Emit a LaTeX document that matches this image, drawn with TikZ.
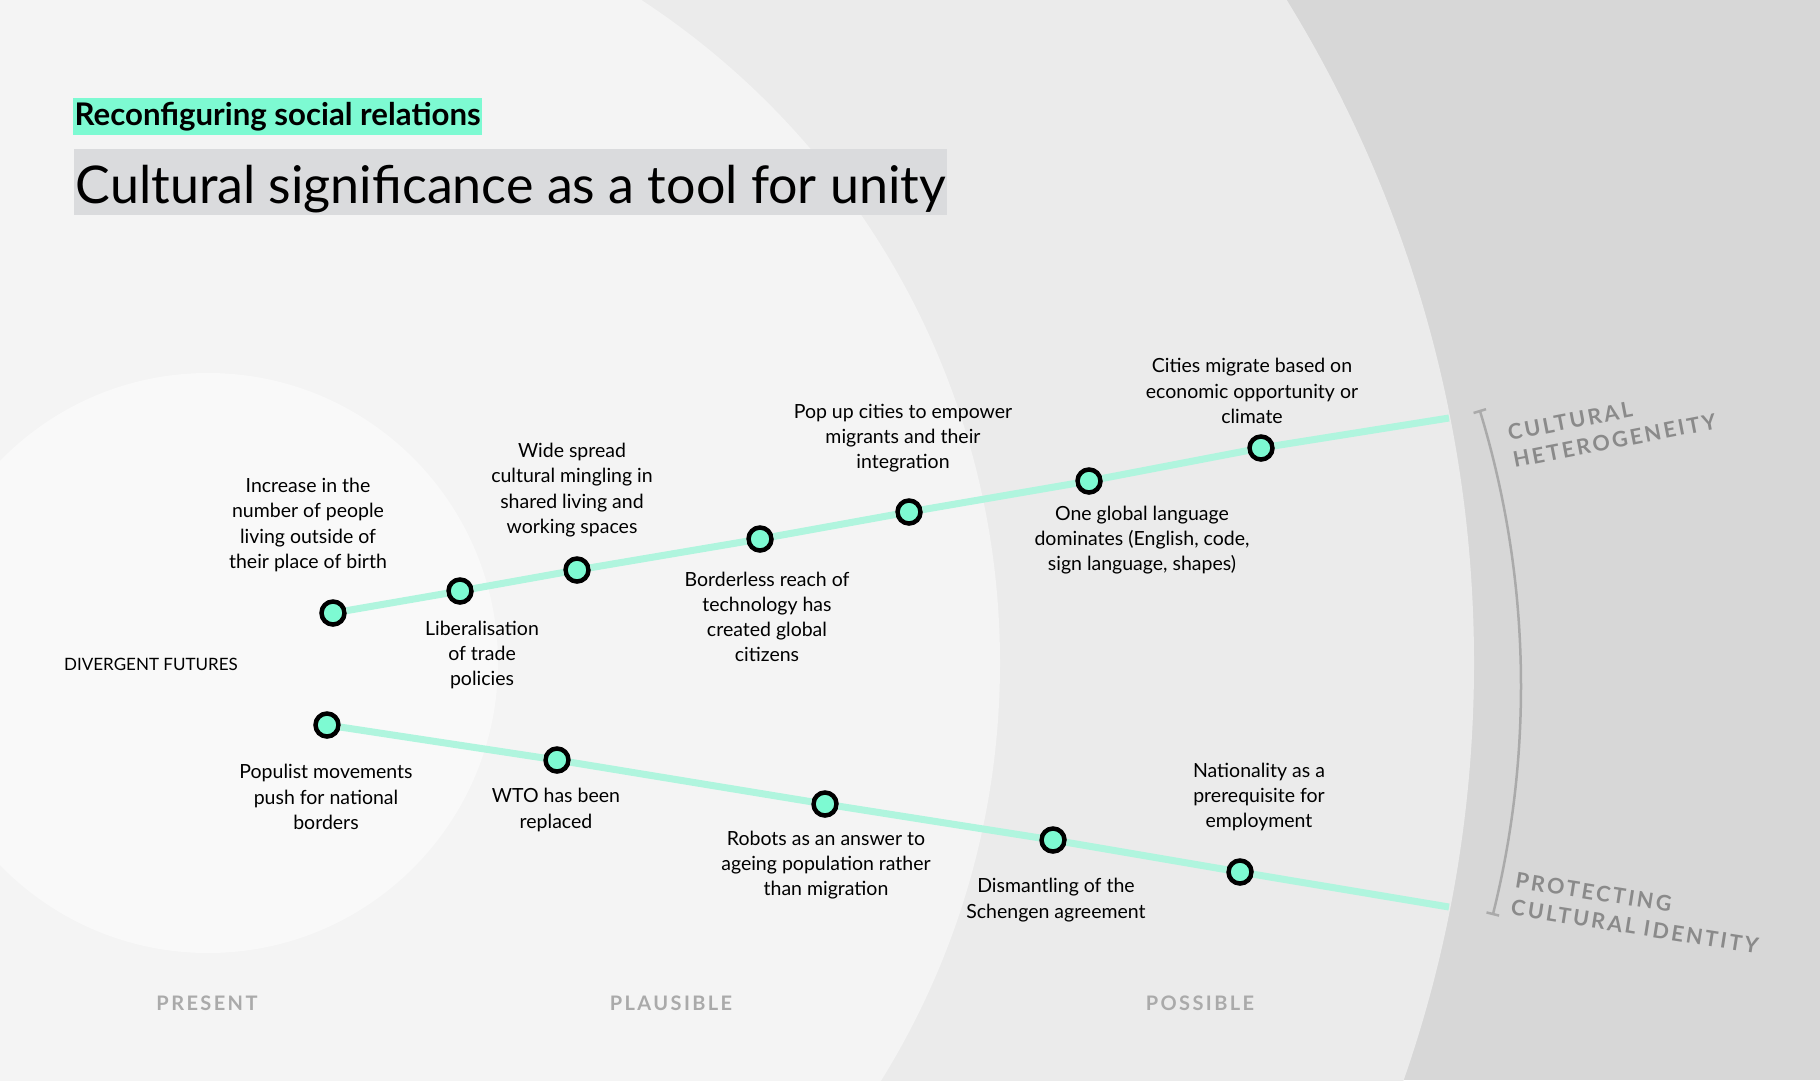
\documentclass[tikz,border=0pt]{standalone}
\usepackage{fontspec}
\setmainfont{Lato}
\usepackage{tikz}

\definecolor{mint}{HTML}{7DFAD2}
\definecolor{minttrack}{HTML}{B0F5DE}
\definecolor{ringfar}{HTML}{D7D7D7}
\definecolor{ringpossible}{HTML}{EBEBEB}
\definecolor{ringplausible}{HTML}{F4F4F4}
\definecolor{ringpresent}{HTML}{F9F9F9}
\definecolor{titlegray}{HTML}{DADBDD}
\definecolor{axisgray}{HTML}{8A8A8A}
\definecolor{horizongray}{HTML}{AAAAAA}

\begin{document}
\begin{tikzpicture}[
x=1pt, y=-1pt,
event/.style={circle, draw=black, line width=4.5pt, fill=mint, minimum size=23pt, inner sep=0pt},
note/.style={align=center, inner sep=0pt, font=\fontsize{19.5}{25.2}\selectfont},
track/.style={minttrack, line width=7pt},
horizon/.style={inner sep=0pt, text=horizongray, font=\bfseries\fontsize{20}{22}\selectfont\addfontfeatures{LetterSpace=12}},
axislabel/.style={align=left, inner sep=0pt, text=axisgray, font=\bfseries\fontsize{21.5}{27.5}\selectfont\addfontfeatures{LetterSpace=12}},
bracketline/.style={draw=horizongray, line width=2.5pt}
]
% rings
\useasboundingbox (0,0) rectangle (1820,1080);
\fill[ringfar] (0,0) rectangle (1820,1080);
\begin{scope}
\clip (0,0) rectangle (1820,1080);
\fill[ringpossible] (208,663) circle[radius=1266pt];
\fill[ringplausible] (208,663) circle[radius=792pt];
\fill[ringpresent] (208,663) circle[radius=290pt];
\end{scope}

% headings
\node[anchor=north west, fill=mint, inner xsep=1.5pt, inner ysep=0pt, text height=28pt, text depth=9.5pt, font=\bfseries\fontsize{31.2}{33}\selectfont] (kicker) at (73,97.5) {Reconfiguring social relations};
\node[anchor=north west, fill=titlegray, inner xsep=1.5pt, inner ysep=0pt, text height=54pt, text depth=12pt, font=\fontsize{52}{56}\selectfont] (title) at (74,149) {Cultural significance as a tool for unity};

\node[anchor=west, inner sep=0pt, font=\fontsize{17}{20}\selectfont] (divergent) at (64,664) {DIVERGENT FUTURES};

% upper future
\node[event] (u1) at (333,613) {};
\node[event] (u2) at (460,591) {};
\node[event] (u3) at (577,570) {};
\node[event] (u4) at (760,539) {};
\node[event] (u5) at (909,512) {};
\node[event] (u6) at (1089,481) {};
\node[event] (u7) at (1261,448) {};
\coordinate (uend) at (1449,418);
\draw[track] (u1) -- (u2);
\draw[track] (u2) -- (u3);
\draw[track] (u3) -- (u4);
\draw[track] (u4) -- (u5);
\draw[track] (u5) -- (u6);
\draw[track] (u6) -- (u7);
\draw[track] (u7) -- (uend);

\node[note] (u1txt) at (308,525) {Increase in the\\number of people\\living outside of\\their place of birth};
\node[note] (u2txt) at (482,655) {Liberalisation\\of trade\\policies};
\node[note] (u3txt) at (572,490) {Wide spread\\cultural mingling in\\shared living and\\working spaces};
\node[note] (u4txt) at (767,617) {Borderless reach of\\technology has\\created global\\citizens};
\node[note] (u5txt) at (903,438) {Pop up cities to empower\\migrants and their\\integration};
\node[note] (u6txt) at (1142,540) {One global language\\dominates (English, code,\\sign language, shapes)};
\node[note] (u7txt) at (1252,391) {Cities migrate based on\\economic opportunity or\\climate};

% lower future
\node[event] (l1) at (327,725) {};
\node[event] (l2) at (557,760) {};
\node[event] (l3) at (825,804) {};
\node[event] (l4) at (1053,840) {};
\node[event] (l5) at (1240,872) {};
\coordinate (lend) at (1449,907);
\draw[track] (l1) -- (l2);
\draw[track] (l2) -- (l3);
\draw[track] (l3) -- (l4);
\draw[track] (l4) -- (l5);
\draw[track] (l5) -- (lend);

\node[note] (l1txt) at (326,797) {Populist movements\\push for national\\borders};
\node[note] (l2txt) at (556,810) {WTO has been\\replaced};
\node[note] (l3txt) at (826,865) {Robots as an answer to\\ageing population rather\\than migration};
\node[note] (l4txt) at (1056,900) {Dismantling of the\\Schengen agreement};
\node[note] (l5txt) at (1259,797) {Nationality as a\\prerequisite for\\employment};

% axis between the two poles
\draw[bracketline] (578.3,686) ++(16.96:942.7pt) arc[start angle=16.96, end angle=-14, radius=942.7pt];
\draw[bracketline] (578.3,686) ++(16.96:936pt) -- ++(16.96:13pt);
\draw[bracketline] (578.3,686) ++(-14:936pt) -- ++(-14:13pt);
\node[axislabel, rotate=11] (heterogeneity) at (1612,427) {CULTURAL\\HETEROGENEITY};
\node[axislabel, rotate=-9] (identity) at (1637,913) {PROTECTING\\CULTURAL IDENTITY};

% horizons
\node[horizon] (present) at (207,1003) {PRESENT};
\node[horizon] (plausible) at (671,1003) {PLAUSIBLE};
\node[horizon] (possible) at (1200,1003) {POSSIBLE};
\end{tikzpicture}
\end{document}
